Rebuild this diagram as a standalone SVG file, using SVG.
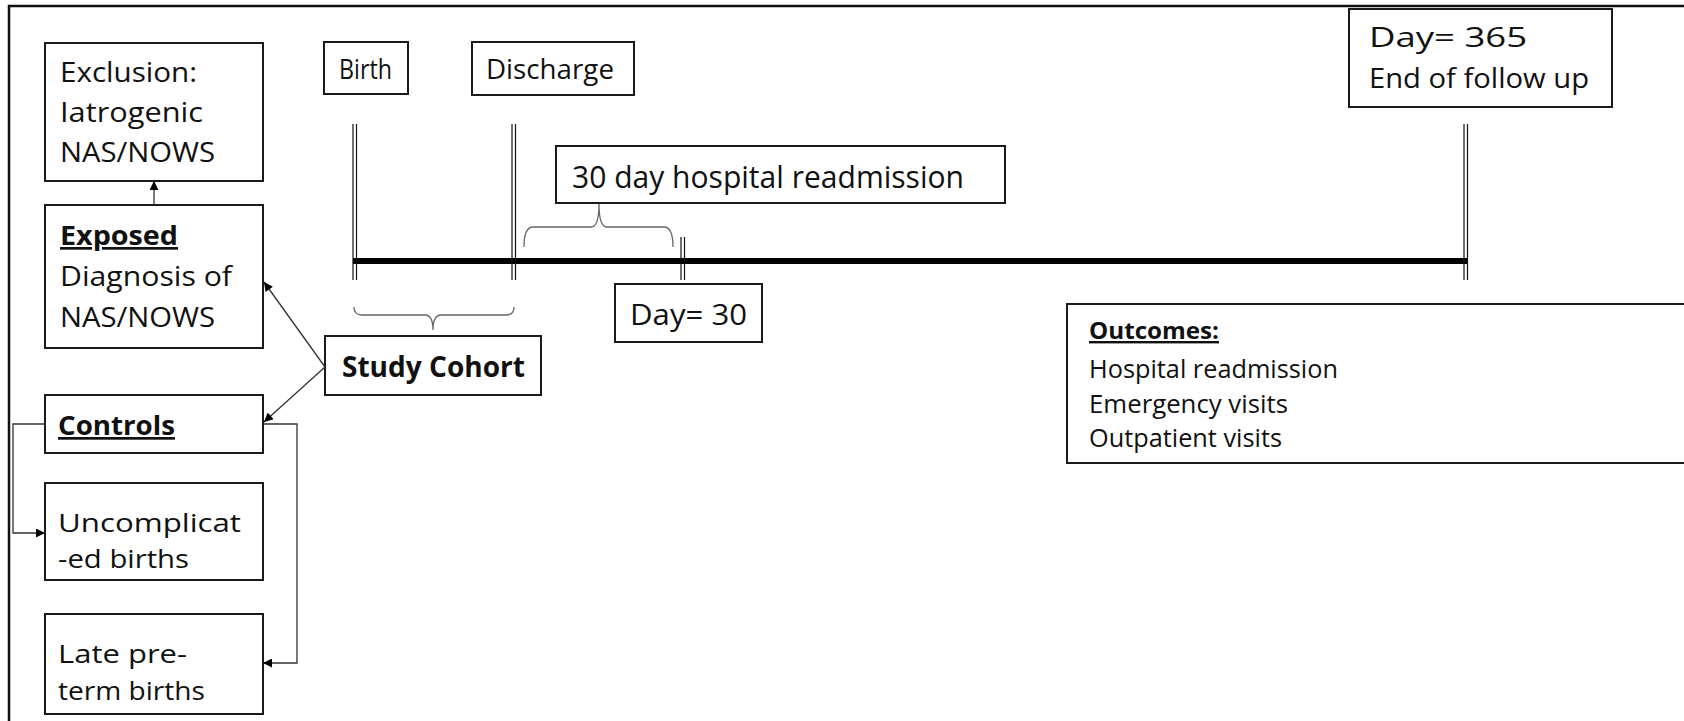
<svg xmlns="http://www.w3.org/2000/svg" width="1684" height="721" viewBox="0 0 1684 721">
<defs>
<style>
.box{fill:#fff;stroke:#1a1a1a;stroke-width:2}
.t{font-family:"Open Sans","Liberation Sans",sans-serif;fill:#111}
.b{font-weight:700;text-decoration:underline}
.conn{fill:none;stroke:#333;stroke-width:1.3}
.tick{fill:none;stroke:#111;stroke-width:1.2}
.brace{fill:none;stroke:#666;stroke-width:1.3}
</style>
<marker id="ah" viewBox="0 0 10 10" refX="10" refY="5" markerWidth="10" markerHeight="9" markerUnits="userSpaceOnUse" orient="auto">
<path d="M0,0 L10,5 L0,10 Z" fill="#000"/>
</marker>
</defs>
<rect x="0" y="0" width="1684" height="721" fill="#fff"/>
<path d="M9,721 L9,6 L1684,6" fill="none" stroke="#111" stroke-width="2.5"/>

<g id="timeline">
<line x1="353" y1="261" x2="1468" y2="261" stroke="#000" stroke-width="6"/>
<path class="tick" d="M353,124 V280 M356.5,124 V280"/>
<path class="tick" d="M512,124 V280 M515.5,124 V280"/>
<path class="tick" d="M681,237 V280 M684.5,237 V280"/>
<path class="tick" d="M1464,124 V280 M1467.5,124 V280"/>
<path class="brace" d="M354,307 Q354,315 362,315 L425,315 Q433,315 433,330 Q433,315 441,315 L506,315 Q514,315 514,307"/>
<path class="brace" d="M524,247 Q524,227 533,227 L591,227 Q599,227 599,204 Q599,227 607,227 L664,227 Q673,227 673,247"/>
</g>

<g id="exclusion">
<rect class="box" x="45" y="43" width="218" height="138"/>
<text class="t" font-size="28" x="60" y="82" textLength="137" lengthAdjust="spacingAndGlyphs">Exclusion:</text>
<text class="t" font-size="28" x="60" y="122" textLength="143" lengthAdjust="spacingAndGlyphs">Iatrogenic</text>
<text class="t" font-size="28" x="60" y="162" textLength="155" lengthAdjust="spacingAndGlyphs">NAS/NOWS</text>
</g>

<g id="exposed">
<rect class="box" x="45" y="205" width="218" height="143"/>
<text class="t b" font-size="27" x="60" y="245" textLength="118" lengthAdjust="spacingAndGlyphs">Exposed</text>
<text class="t" font-size="28" x="60" y="286" textLength="172" lengthAdjust="spacingAndGlyphs">Diagnosis of</text>
<text class="t" font-size="28" x="60" y="327" textLength="155" lengthAdjust="spacingAndGlyphs">NAS/NOWS</text>
</g>

<g id="controls">
<rect class="box" x="45" y="395" width="218" height="58"/>
<text class="t b" font-size="27" x="58" y="435" textLength="117" lengthAdjust="spacingAndGlyphs">Controls</text>
</g>

<g id="uncomplicated">
<rect class="box" x="45" y="483" width="218" height="97"/>
<text class="t" font-size="26" x="58" y="532" textLength="183" lengthAdjust="spacingAndGlyphs">Uncomplicat</text>
<text class="t" font-size="26" x="58" y="568" textLength="131" lengthAdjust="spacingAndGlyphs">-ed births</text>
</g>

<g id="latepreterm">
<rect class="box" x="45" y="614" width="218" height="100"/>
<text class="t" font-size="26" x="58" y="663" textLength="129" lengthAdjust="spacingAndGlyphs">Late pre-</text>
<text class="t" font-size="26" x="58" y="700" textLength="147" lengthAdjust="spacingAndGlyphs">term births</text>
</g>

<g id="studycohort">
<rect class="box" x="325" y="336" width="216" height="59"/>
<text class="t" font-size="29" font-weight="700" x="342" y="377" textLength="183" lengthAdjust="spacingAndGlyphs">Study Cohort</text>
</g>

<g id="birth">
<rect class="box" x="324" y="42" width="84" height="52"/>
<text class="t" font-size="28" x="339" y="79" textLength="53" lengthAdjust="spacingAndGlyphs">Birth</text>
</g>

<g id="discharge">
<rect class="box" x="472" y="42" width="162" height="53"/>
<text class="t" font-size="28" x="486" y="79" textLength="128" lengthAdjust="spacingAndGlyphs">Discharge</text>
</g>

<g id="readmission30">
<rect class="box" x="556" y="146" width="449" height="57"/>
<text class="t" font-size="31" x="572" y="188" textLength="392" lengthAdjust="spacingAndGlyphs">30 day hospital readmission</text>
</g>

<g id="day30">
<rect class="box" x="615" y="284" width="147" height="58"/>
<text class="t" font-size="30" x="630" y="325" textLength="117" lengthAdjust="spacingAndGlyphs">Day= 30</text>
</g>

<g id="day365">
<rect class="box" x="1349" y="9" width="263" height="98"/>
<text class="t" font-size="28" x="1369" y="47" textLength="158" lengthAdjust="spacingAndGlyphs">Day= 365</text>
<text class="t" font-size="28" x="1369" y="88" textLength="220" lengthAdjust="spacingAndGlyphs">End of follow up</text>
</g>

<g id="outcomes">
<rect class="box" x="1067" y="304" width="700" height="159"/>
<text class="t b" font-size="24" x="1089" y="339" textLength="130" lengthAdjust="spacingAndGlyphs">Outcomes:</text>
<text class="t" font-size="25" x="1089" y="378" textLength="249" lengthAdjust="spacingAndGlyphs">Hospital readmission</text>
<text class="t" font-size="25" x="1089" y="413" textLength="199" lengthAdjust="spacingAndGlyphs">Emergency visits</text>
<text class="t" font-size="25" x="1089" y="447" textLength="193" lengthAdjust="spacingAndGlyphs">Outpatient visits</text>
</g>

<g id="connectors">
<line class="conn" x1="154" y1="205" x2="154" y2="181" marker-end="url(#ah)"/>
<line class="conn" x1="325" y1="367" x2="264" y2="282" marker-end="url(#ah)"/>
<line class="conn" x1="325" y1="367" x2="264" y2="422" marker-end="url(#ah)"/>
<polyline class="conn" points="45,424 13,424 13,533 45,533" marker-end="url(#ah)"/>
<polyline class="conn" points="263,424 297,424 297,663 263,663" marker-end="url(#ah)"/>
</g>
</svg>
